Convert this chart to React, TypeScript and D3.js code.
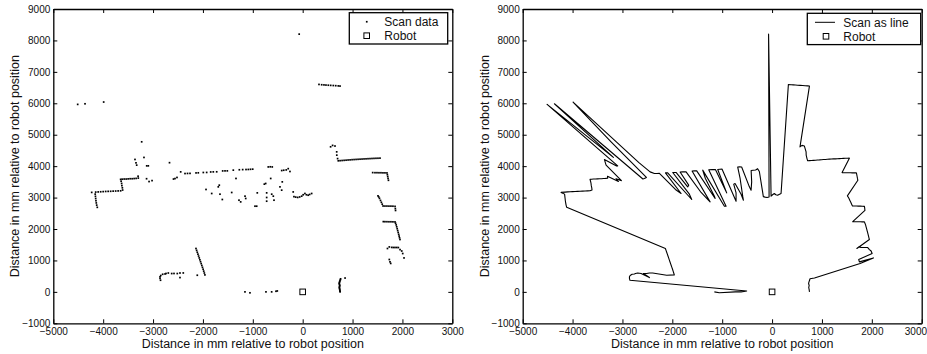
import React, { useEffect, useRef } from "react";
import * as d3 from "d3";

type Pt = [number, number];

// axis ticks
const xTicks = [-5000, -4000, -3000, -2000, -1000, 0, 1000, 2000, 3000];
const yTicks = [-1000, 0, 1000, 2000, 3000, 4000, 5000, 6000, 7000, 8000, 9000];
const axisTitle = "Distance in mm relative to robot position";
const robotPos: Pt = [0, 0];

// scan points in scan order (counter-clockwise, starting to the right of the robot)
const scanNearRight: Pt[] = [
  [750, 0], [748, 25], [745, 55], [742, 85], [738, 115], [735, 145], [740, 175],
  [744, 205], [738, 235], [732, 265], [736, 295], [742, 325], [748, 355],
  [755, 385], [760, 415], [850, 440],
];

const scanRightWall: Pt[] = [
  [1765, 905], [2032, 1080], [1751, 955], [1737, 1030], [2006, 1220], [1986, 1300],
  [1952, 1345], [1918, 1410], [1885, 1412], [1851, 1412], [1818, 1412], [1785, 1415],
  [1737, 1430], [1700, 1380],
];

const scanRightSteps: Pt[] = [
  [1951, 1666], [1942, 1720], [1934, 1775], [1925, 1830], [1915, 1890], [1905, 1950],
  [1895, 2010], [1885, 2070], [1875, 2130], [1862, 2185], [1851, 2226],
  [1810, 2228], [1770, 2230], [1730, 2230], [1690, 2232], [1650, 2233], [1617, 2235],
  [1862, 2590], [1858, 2650], [1852, 2720],
  [1810, 2726], [1770, 2728], [1730, 2728], [1690, 2730], [1650, 2730], [1612, 2732],
  [1595, 2790], [1578, 2850], [1560, 2910], [1540, 2975], [1525, 3020], [1510, 3055],
  [1720, 3550], [1712, 3610], [1705, 3670], [1698, 3730], [1690, 3785],
  [1650, 3787], [1610, 3787], [1570, 3790], [1530, 3790], [1490, 3792], [1450, 3792], [1404, 3795],
];

const scanUpperRight: Pt[] = [
  [1550, 4255], [1510, 4252], [1470, 4250], [1430, 4247], [1390, 4244], [1350, 4240],
  [1310, 4237], [1270, 4233], [1230, 4230], [1190, 4226], [1150, 4222], [1110, 4218],
  [1070, 4214], [1030, 4210], [990, 4206], [950, 4200], [910, 4196], [870, 4190],
  [830, 4185], [790, 4180], [750, 4175], [714, 4170],
  [700, 4240], [684, 4350], [682, 4455], [648, 4640], [600, 4660], [560, 4615],
  [749, 6548], [714, 6553], [663, 6560], [614, 6565], [562, 6570], [514, 6575],
  [467, 6580], [427, 6585], [381, 6590], [327, 6600],
];

const scanFront: Pt[] = [
  [180, 3130], [140, 3100], [110, 3075], [75, 3090], [45, 3130], [10, 3090], [-20, 3045],
  [-70, 8200], [-60, 3020], [-100, 3005], [-140, 3015], [-175, 3030], [-190, 3180],
];

const scanLeftFront: Pt[] = [
  [-255, 3830], [-290, 3920], [-330, 3880], [-380, 3870], [-420, 3860],
  [-409, 3500], [-421, 3236], [-455, 3341],
  [-610, 3975], [-650, 3980], [-690, 3975],
  [-641, 3608], [-589, 3045], [-575, 2917], [-621, 3108], [-742, 3449], [-769, 3427],
  [-722, 3150], [-722, 3003], [-722, 2885],
  [-1002, 3904], [-1046, 3900], [-1090, 3895],
  [-910, 3150],
  [-1136, 3893], [-1203, 3890], [-1270, 3885],
  [-922, 2726], [-956, 2726],
  [-1391, 3873],
  [-1337, 3608], [-1156, 3045], [-1142, 2971],
  [-1511, 3850], [-1557, 3850], [-1604, 3848],
  [-1243, 2863], [-1277, 2917], [-1423, 3162],
  [-1724, 3820], [-1792, 3818], [-1844, 3815],
  [-1672, 3395], [-1692, 3341],
  [-1925, 3800], [-1992, 3798],
  [-1658, 3108], [-1611, 2939],
  [-2093, 3788], [-2138, 3785],
  [-1824, 3130], [-1938, 3258],
  [-2259, 3770], [-2309, 3768], [-2359, 3765], [-2446, 3818],
];

const scanUpperLeft: Pt[] = [
  [-2670, 4110], [-3990, 6040], [-3228, 4774], [-2520, 3640], [-2560, 3605], [-2590, 3590],
  [-4364, 5984], [-3182, 4277], [-4511, 5965], [-3095, 4010], [-3127, 4010],
  [-3362, 4213], [-3342, 4105], [-3328, 4032], [-3020, 3540], [-3130, 3600],
  [-3080, 3510], [-3300, 3680],
];

const scanLeftWalls: Pt[] = [
  [-3296, 3620], [-3340, 3610], [-3380, 3605], [-3420, 3600], [-3460, 3600], [-3500, 3595],
  [-3540, 3590], [-3580, 3590], [-3620, 3585], [-3650, 3580],
  [-3640, 3520], [-3630, 3450], [-3625, 3380], [-3615, 3310], [-3610, 3240],
  [-3650, 3215], [-3700, 3212], [-3750, 3208], [-3800, 3205], [-3850, 3200], [-3900, 3198],
  [-3950, 3195], [-4000, 3190], [-4050, 3185], [-4100, 3180], [-4150, 3175], [-4230, 3165],
  [-4160, 3110], [-4155, 3040], [-4150, 2970], [-4145, 2900], [-4138, 2830], [-4130, 2760],
  [-4118, 2690],
];

const scanLowerLeft: Pt[] = [
  [-2139, 1380], [-2126, 1320], [-2113, 1260], [-2100, 1200], [-2087, 1140], [-2074, 1080],
  [-2061, 1020], [-2048, 960], [-2035, 900], [-2022, 840], [-2009, 780], [-1996, 720],
  [-1984, 660], [-1972, 600], [-1960, 540],
  [-2113, 529], [-2394, 602], [-2460, 600], [-2514, 583], [-2580, 585], [-2460, 455],
  [-2626, 583], [-2694, 600], [-2740, 585], [-2760, 570], [-2807, 560], [-2845, 520],
  [-2860, 480], [-2860, 430], [-2850, 370],
  [-509, 29], [-535, 19], [-622, 0], [-736, 0], [-1057, -30], [-1157, 0],
];

const scan: Pt[] = [
  ...scanNearRight,
  ...scanRightWall,
  ...scanRightSteps,
  ...scanUpperRight,
  ...scanFront,
  ...scanLeftFront,
  ...scanUpperLeft,
  ...scanLeftWalls,
  ...scanLowerLeft,
];

const FONT = "'Liberation Sans', Arial, Helvetica, sans-serif";
const SVG_W = 927;

const drawPanel = (
  root: d3.Selection<SVGSVGElement, unknown, null, undefined>,
  left: number,
  mode: "dots" | "line"
) => {
  const width = 399;
  const top = 9;
  const bottom = 323.3;
  const x = d3.scaleLinear().domain([-5000, 3000]).range([left, left + width]);
  const y = d3.scaleLinear().domain([-1000, 9000]).range([bottom, top]);
  const fmt = d3.format("d");

  const g = root.append("g");

  // data
  if (mode === "dots") {
    g.selectAll(".pt")
      .data(scan)
      .enter()
      .append("rect")
      .attr("class", "pt")
      .attr("x", (d) => x(d[0]) - 0.85)
      .attr("y", (d) => y(d[1]) - 0.85)
      .attr("width", 1.7)
      .attr("height", 1.7)
      .attr("fill", "#000");
  } else {
    const line = d3
      .line<Pt>()
      .x((d) => x(d[0]))
      .y((d) => y(d[1]));
    g.append("path")
      .datum(scan)
      .attr("d", line)
      .attr("fill", "none")
      .attr("stroke", "#000")
      .attr("stroke-width", 1.1)
      .attr("stroke-linejoin", "round");
  }

  // robot
  g.append("rect")
    .attr("x", x(robotPos[0]) - 2.8)
    .attr("y", y(robotPos[1]) - 2.8)
    .attr("width", 5.6)
    .attr("height", 5.6)
    .attr("fill", "#fff")
    .attr("stroke", "#000")
    .attr("stroke-width", 1);

  // axes (ticks inside, box on all sides)
  const styleAxis = (a: d3.Selection<SVGGElement, unknown, null, undefined>) => {
    a.select(".domain").attr("stroke", "#000").attr("stroke-width", 1.3);
    a.selectAll(".tick line").attr("stroke", "#000").attr("stroke-width", 1);
    a.selectAll("text")
      .attr("fill", "#111")
      .style("font-family", FONT)
      .style("font-size", "10px");
  };

  const xAxis = g
    .append("g")
    .attr("transform", `translate(0,${bottom})`)
    .call(
      d3.axisBottom(x).tickValues(xTicks).tickSizeInner(-4).tickSizeOuter(0).tickPadding(5).tickFormat((d) => fmt(d as number))
    )
    .call(styleAxis);
  // keep the last label inside the picture
  xAxis
    .selectAll<SVGTextElement, number>("text")
    .filter((d) => x(d) + 11 > SVG_W)
    .attr("text-anchor", "end")
    .attr("x", (d) => SVG_W - 0.5 - x(d));

  g.append("g")
    .attr("transform", `translate(0,${top})`)
    .call(d3.axisTop(x).tickValues(xTicks).tickSizeInner(-4).tickSizeOuter(0).tickFormat(() => ""))
    .call(styleAxis);
  g.append("g")
    .attr("transform", `translate(${left},0)`)
    .call(
      d3.axisLeft(y).tickValues(yTicks).tickSizeInner(-4).tickSizeOuter(0).tickPadding(3).tickFormat((d) => fmt(d as number))
    )
    .call(styleAxis);
  g.append("g")
    .attr("transform", `translate(${left + width},0)`)
    .call(d3.axisRight(y).tickValues(yTicks).tickSizeInner(-4).tickSizeOuter(0).tickFormat(() => ""))
    .call(styleAxis);

  // axis titles
  g.append("text")
    .attr("x", left + width / 2)
    .attr("y", 347.5)
    .attr("text-anchor", "middle")
    .style("font-family", FONT)
    .style("font-size", "12.5px")
    .attr("fill", "#111")
    .text(axisTitle);
  g.append("text")
    .attr("transform", `translate(${left - 34},${(top + bottom) / 2}) rotate(-90)`)
    .attr("text-anchor", "middle")
    .style("font-family", FONT)
    .style("font-size", "12.5px")
    .attr("fill", "#111")
    .text(axisTitle);

  // legend
  const lw = mode === "dots" ? 98.4 : 113.4;
  const lx = mode === "dots" ? left + width - 4.6 - lw : left + width - 1 - lw;
  const ly = mode === "dots" ? 12.7 : 13.3;
  const leg = g.append("g").attr("transform", `translate(${lx},${ly})`);
  leg.append("rect")
    .attr("width", lw)
    .attr("height", 31.3)
    .attr("fill", "#fff")
    .attr("stroke", "#000")
    .attr("stroke-width", 1.3);
  if (mode === "dots") {
    leg.append("rect").attr("x", 16.6).attr("y", 8.2).attr("width", 1.7).attr("height", 1.7).attr("fill", "#000");
  } else {
    leg.append("line")
      .attr("x1", 7.7)
      .attr("x2", 27.7)
      .attr("y1", 9)
      .attr("y2", 9)
      .attr("stroke", "#000")
      .attr("stroke-width", 1);
  }
  const sqX = mode === "dots" ? 17.4 : 18.7;
  leg.append("rect")
    .attr("x", sqX - 2.8)
    .attr("y", 23 - 2.8)
    .attr("width", 5.6)
    .attr("height", 5.6)
    .attr("fill", "#fff")
    .attr("stroke", "#000")
    .attr("stroke-width", 1);
  const tx = mode === "dots" ? 35 : 36;
  leg.append("text")
    .attr("x", tx)
    .attr("y", 13.3)
    .style("font-family", FONT)
    .style("font-size", "12px")
    .attr("fill", "#111")
    .text(mode === "dots" ? "Scan data" : "Scan as line");
  leg.append("text")
    .attr("x", tx)
    .attr("y", 27.6)
    .style("font-family", FONT)
    .style("font-size", "12px")
    .attr("fill", "#111")
    .text("Robot");
};

const App = () => {
  const svgRef = useRef<SVGSVGElement | null>(null);

  useEffect(() => {
    const svg = d3.select(svgRef.current as SVGSVGElement);
    svg.selectAll("*").remove();
    drawPanel(svg, 53.3, "dots");
    drawPanel(svg, 522.7, "line");
  }, []);

  return (
    <div style={{ position: "absolute", left: 0, top: 0, background: "#fff" }}>
      <svg ref={svgRef} width={SVG_W} height={354} style={{ display: "block" }}></svg>
    </div>
  );
};

export default App;
